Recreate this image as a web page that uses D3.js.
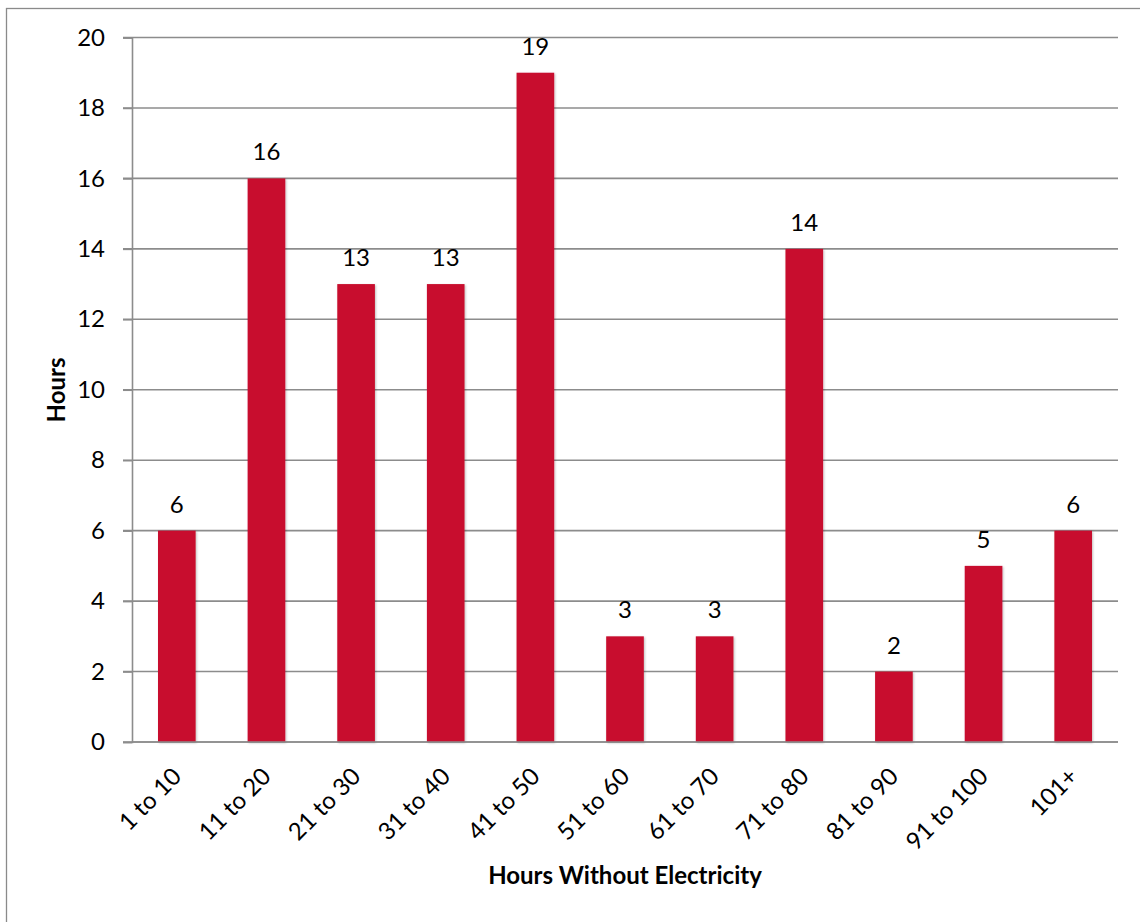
<!DOCTYPE html>
<html>
<head>
<meta charset="utf-8">
<script src="https://cdn.jsdelivr.net/npm/d3@7"></script>
<style>
  html, body { margin: 0; padding: 0; background: #fff; }
  svg { display: block; }
  text { font-family: Lato, "Open Sans", sans-serif; fill: #000; }
</style>
</head>
<body>
<svg id="chart" width="1140" height="922"></svg>
<script>
// Hours-without-electricity buckets and their counts
const categories = ["1 to 10", "11 to 20", "21 to 30", "31 to 40", "41 to 50", "51 to 60",
                    "61 to 70", "71 to 80", "81 to 90", "91 to 100", "101+"];
const values = [6, 16, 13, 13, 19, 3, 3, 14, 2, 5, 6];
const yTicks = [0, 2, 4, 6, 8, 10, 12, 14, 16, 18, 20];
const xTitle = "Hours Without Electricity";
const yTitle = "Hours";

const svg = d3.select("#chart");
const plot = { left: 132, right: 1118, top: 37.5, bottom: 742 };
const fontSize = 24;

const defs = svg.append("defs");
const shadow = defs.append("filter").attr("id", "barShadow")
  .attr("x", "-20%").attr("y", "-5%").attr("width", "140%").attr("height", "110%");
shadow.append("feDropShadow").attr("dx", 1).attr("dy", 1).attr("stdDeviation", 1.2)
  .attr("flood-color", "#000").attr("flood-opacity", 0.25);

// outer chart frame
svg.append("rect").attr("x", 6.5).attr("y", 8.5).attr("width", 1150).attr("height", 940)
  .attr("fill", "none").attr("stroke", "#8a8a8a").attr("stroke-width", 1.3);

const x = d3.scaleBand().domain(categories).range([plot.left, plot.right]).paddingInner(0.58).paddingOuter(0.29);
const y = d3.scaleLinear().domain([0, 20]).range([plot.bottom, plot.top]);

// horizontal gridlines
svg.append("g").selectAll("line").data(yTicks).join("line")
  .attr("x1", plot.left - 9).attr("x2", plot.right)
  .attr("y1", d => y(d)).attr("y2", d => y(d))
  .attr("stroke", "#8c8c8c").attr("stroke-width", 1.6);

// y axis
const yAxis = svg.append("g").attr("transform", `translate(${plot.left},0)`)
  .call(d3.axisLeft(y).tickValues(yTicks).tickSize(9).tickPadding(18));
yAxis.select(".domain").attr("stroke", "#8c8c8c").attr("stroke-width", 1.6);
yAxis.selectAll(".tick line").attr("stroke", "#8c8c8c").attr("stroke-width", 1.6);
yAxis.selectAll(".tick text").attr("font-size", fontSize).attr("font-family", "Lato, sans-serif").attr("fill", "#000");

// bars
svg.append("g").selectAll("rect").data(values).join("rect")
  .attr("x", (d, i) => x(categories[i]))
  .attr("y", d => y(d))
  .attr("width", x.bandwidth())
  .attr("height", d => y(0) - y(d))
  .attr("fill", "#c8102e")
  .attr("filter", "url(#barShadow)");

// value labels
svg.append("g").selectAll("text").data(values).join("text")
  .attr("x", (d, i) => x(categories[i]) + x.bandwidth() / 2)
  .attr("y", d => y(d) - 18)
  .attr("text-anchor", "middle")
  .attr("font-size", fontSize)
  .text(d => d);

// x axis line and category labels
svg.append("line").attr("x1", plot.left).attr("x2", plot.right)
  .attr("y1", y(0)).attr("y2", y(0)).attr("stroke", "#8c8c8c").attr("stroke-width", 1.6);
svg.append("g").selectAll("text").data(categories).join("text")
  .attr("transform", d => `translate(${x(d) + x.bandwidth() / 2 + 6},${y(0) + 36}) rotate(-45)`)
  .attr("text-anchor", "end")
  .attr("font-size", fontSize)
  .text(d => d);

// axis titles
svg.append("text").attr("x", (plot.left + plot.right) / 2).attr("y", 884)
  .attr("text-anchor", "middle").attr("font-size", fontSize).attr("font-weight", "bold")
  .text(xTitle);
svg.append("text").attr("transform", `translate(65,390) rotate(-90)`)
  .attr("text-anchor", "middle").attr("font-size", fontSize).attr("font-weight", "bold")
  .text(yTitle);
</script>
</body>
</html>
